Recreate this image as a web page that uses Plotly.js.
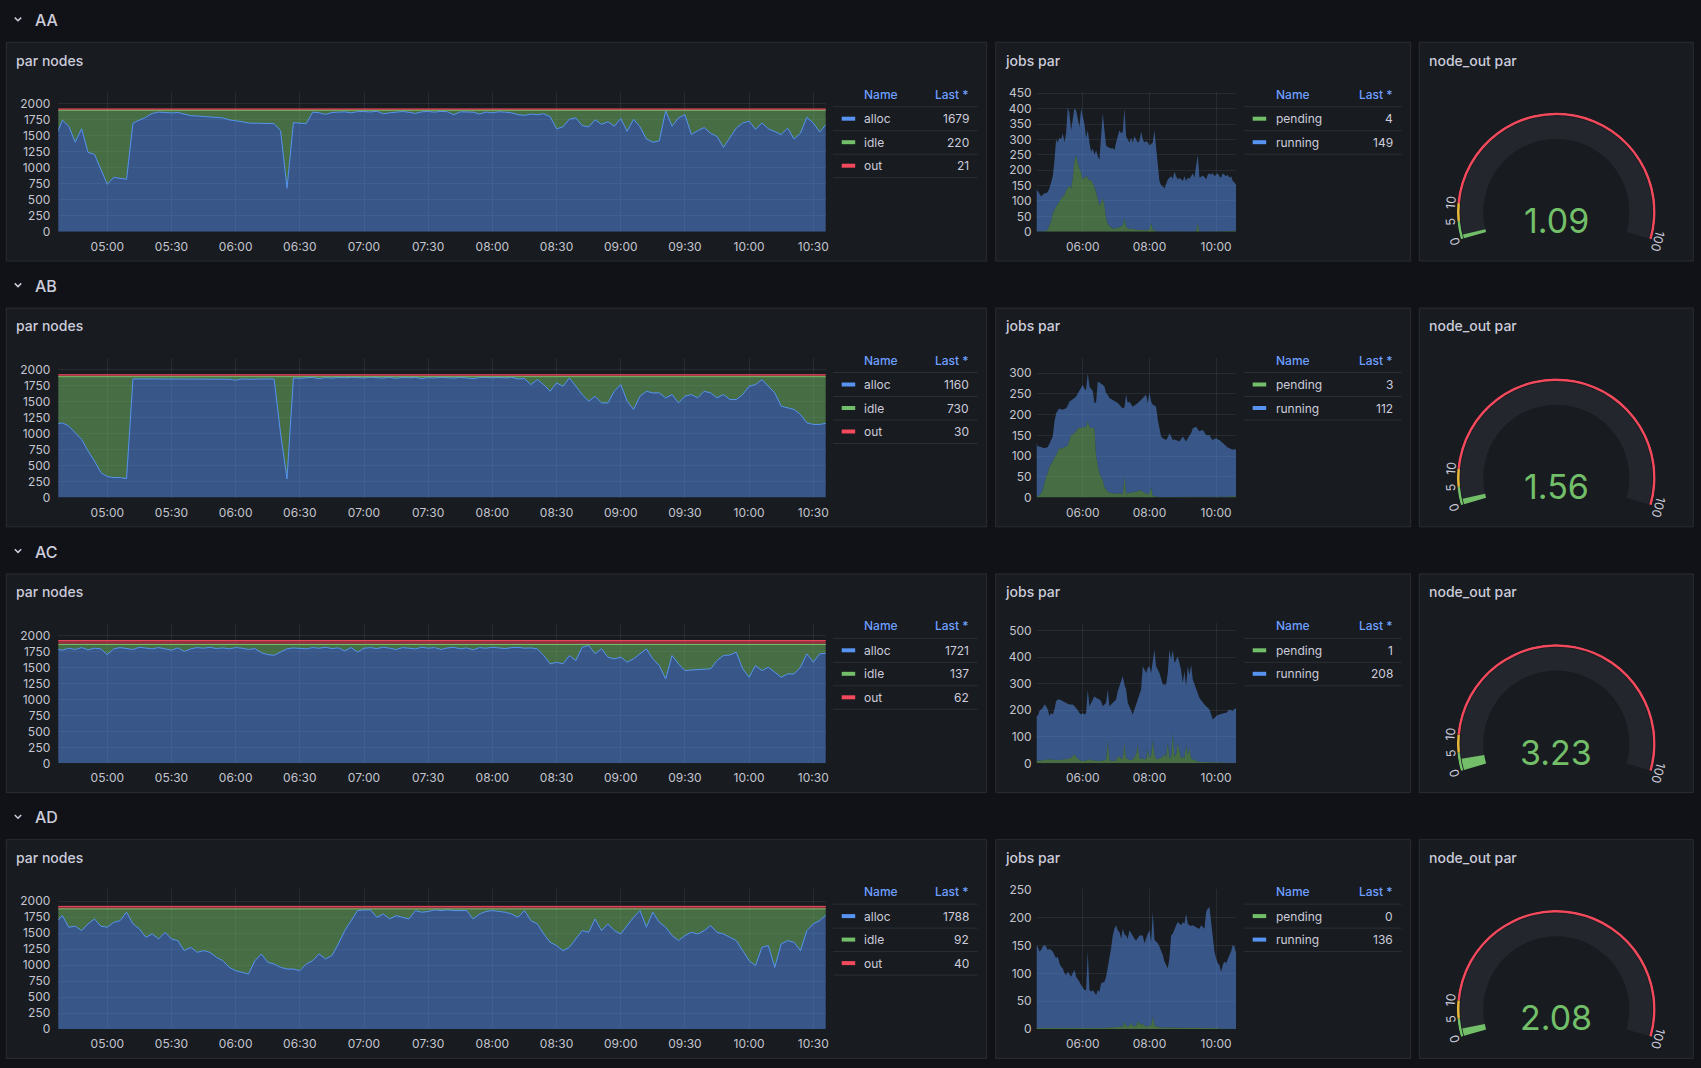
<!DOCTYPE html>
<html>
<head>
<meta charset="utf-8">
<script src="https://cdn.plot.ly/plotly-3.0.1.min.js"></script>
<style>
  html, body { margin: 0; padding: 0; background: #111217; }
  #dash { width: 1701px; height: 1068px; }
</style>
</head>
<body>
<div id="dash"></div>
<script>
// rows of the dashboard
const rowNames = ['AA', 'AB', 'AC', 'AD'];

// one sample every 3 minutes, 04:36 .. 10:36 (121 samples)
const DAY = '2024-05-14 ';
const START_MIN = 4 * 60 + 36;
const STEP_MIN = 3;
const N_POINTS = 121;
const times = [];
for (let i = 0; i < N_POINTS; i++) {
  const m = START_MIN + i * STEP_MIN;
  times.push(DAY + String(Math.floor(m / 60)).padStart(2, '0') + ':' + String(m % 60).padStart(2, '0'));
}

// ---- par nodes (stacked: alloc, idle, out) ----
const allocAA = [
  1490, 1745, 1650, 1400, 1610, 1240, 1210, 960, 740, 850,
  840, 820, 1700, 1740, 1790, 1850, 1870, 1865, 1858, 1865,
  1840, 1815, 1810, 1800, 1800, 1790, 1780, 1750, 1740, 1720,
  1700, 1700, 1690, 1695, 1690, 1580, 680, 1705, 1695, 1690,
  1870, 1860, 1835, 1865, 1870, 1875, 1860, 1878, 1880, 1872,
  1885, 1845, 1860, 1870, 1880, 1868, 1850, 1875, 1880, 1870,
  1882, 1876, 1830, 1875, 1878, 1870, 1840, 1872, 1860, 1875,
  1870, 1860, 1830, 1820, 1840, 1830, 1845, 1800, 1610, 1640,
  1760, 1780, 1660, 1640, 1750, 1680, 1720, 1650, 1770, 1570,
  1760, 1640, 1450, 1400, 1420, 1890, 1650, 1780, 1830, 1520,
  1580, 1630, 1540, 1490, 1320, 1480, 1620, 1700, 1730, 1600,
  1700, 1610, 1560, 1520, 1620, 1450, 1540, 1790, 1700, 1560,
  1679];
const idleAA = [
  409, 154, 249, 499, 289, 659, 689, 939, 1159, 1049,
  1059, 1079, 199, 159, 109, 49, 29, 34, 41, 34,
  59, 84, 89, 99, 99, 109, 119, 149, 159, 179,
  199, 199, 209, 204, 209, 319, 1219, 194, 204, 209,
  29, 39, 64, 34, 29, 24, 39, 21, 19, 27,
  14, 54, 39, 29, 19, 31, 49, 24, 19, 29,
  17, 23, 69, 24, 21, 29, 59, 27, 39, 24,
  29, 39, 69, 79, 59, 69, 54, 99, 289, 259,
  139, 119, 239, 259, 149, 219, 179, 249, 129, 329,
  139, 259, 449, 499, 479, 9, 249, 119, 69, 379,
  319, 269, 359, 409, 579, 419, 279, 199, 169, 299,
  199, 289, 339, 379, 279, 449, 359, 109, 199, 339,
  220];
const outAA = [
  21, 21, 21, 21, 21, 21, 21, 21, 21, 21, 21,
  21, 21, 21, 21, 21, 21, 21, 21, 21, 21, 21,
  21, 21, 21, 21, 21, 21, 21, 21, 21, 21, 21,
  21, 21, 21, 21, 21, 21, 21, 21, 21, 21, 21,
  21, 21, 21, 21, 21, 21, 21, 21, 21, 21, 21,
  21, 21, 21, 21, 21, 21, 21, 21, 21, 21, 21,
  21, 21, 21, 21, 21, 21, 21, 21, 21, 21, 21,
  21, 21, 21, 21, 21, 21, 21, 21, 21, 21, 21,
  21, 21, 21, 21, 21, 21, 21, 21, 21, 21, 21,
  21, 21, 21, 21, 21, 21, 21, 21, 21, 21, 21,
  21, 21, 21, 21, 21, 21, 21, 21, 21, 21, 21];

const allocAB = [
  1143, 1169, 1117, 1013, 909, 727, 571, 390, 327, 312,
  312, 296, 1855, 1855, 1855, 1855, 1855, 1855, 1855, 1855,
  1855, 1855, 1855, 1855, 1855, 1855, 1850, 1850, 1835, 1855,
  1850, 1855, 1850, 1855, 1850, 1000, 290, 1870, 1865, 1875,
  1880, 1860, 1875, 1868, 1878, 1872, 1880, 1876, 1870, 1882,
  1875, 1868, 1880, 1865, 1878, 1872, 1880, 1860, 1876, 1870,
  1880, 1875, 1868, 1880, 1874, 1860, 1876, 1880, 1872, 1878,
  1870, 1880, 1855, 1860, 1766, 1844, 1766, 1662, 1792, 1740,
  1870, 1740, 1610, 1506, 1584, 1480, 1480, 1662, 1766, 1506,
  1377, 1584, 1662, 1636, 1636, 1558, 1610, 1480, 1584, 1610,
  1558, 1662, 1636, 1558, 1610, 1532, 1532, 1610, 1740, 1766,
  1844, 1740, 1636, 1429, 1403, 1377, 1299, 1169, 1143, 1143,
  1160];
const idleAB = [
  747, 721, 773, 877, 981, 1163, 1319, 1500, 1563, 1578,
  1578, 1594, 35, 35, 35, 35, 35, 35, 35, 35,
  35, 35, 35, 35, 35, 35, 40, 40, 55, 35,
  40, 35, 40, 35, 40, 890, 1600, 20, 25, 15,
  10, 30, 15, 22, 12, 18, 10, 14, 20, 8,
  15, 22, 10, 25, 12, 18, 10, 30, 14, 20,
  10, 15, 22, 10, 16, 30, 14, 10, 18, 12,
  20, 10, 35, 30, 124, 46, 124, 228, 98, 150,
  20, 150, 280, 384, 306, 410, 410, 228, 124, 384,
  513, 306, 228, 254, 254, 332, 280, 410, 306, 280,
  332, 228, 254, 332, 280, 358, 358, 280, 150, 124,
  46, 150, 254, 461, 487, 513, 591, 721, 747, 747,
  730];
const outAB = [
  30, 30, 30, 30, 30, 30, 30, 30, 30, 30, 30,
  30, 30, 30, 30, 30, 30, 30, 30, 30, 30, 30,
  30, 30, 30, 30, 30, 30, 30, 30, 30, 30, 30,
  30, 30, 30, 30, 30, 30, 30, 30, 30, 30, 30,
  30, 30, 30, 30, 30, 30, 30, 30, 30, 30, 30,
  30, 30, 30, 30, 30, 30, 30, 30, 30, 30, 30,
  30, 30, 30, 30, 30, 30, 30, 30, 30, 30, 30,
  30, 30, 30, 30, 30, 30, 30, 30, 30, 30, 30,
  30, 30, 30, 30, 30, 30, 30, 30, 30, 30, 30,
  30, 30, 30, 30, 30, 30, 30, 30, 30, 30, 30,
  30, 30, 30, 30, 30, 30, 30, 30, 30, 30, 30];

const allocAC = [
  1790, 1770, 1800, 1780, 1810, 1775, 1800, 1790, 1700, 1790,
  1810, 1800, 1780, 1815, 1800, 1790, 1810, 1795, 1770, 1805,
  1750, 1790, 1810, 1800, 1815, 1795, 1805, 1790, 1810, 1800,
  1780, 1795, 1730, 1700, 1690, 1740, 1790, 1805, 1800, 1790,
  1810, 1800, 1815, 1795, 1805, 1760, 1810, 1740, 1800, 1810,
  1795, 1815, 1800, 1780, 1810, 1805, 1790, 1815, 1800, 1810,
  1780, 1805, 1815, 1790, 1805, 1775, 1810, 1800, 1815, 1805,
  1795, 1810, 1815, 1800, 1805, 1790, 1686, 1555, 1580, 1555,
  1686, 1607, 1817, 1843, 1712, 1791, 1660, 1634, 1660, 1581,
  1634, 1712, 1791, 1634, 1529, 1319, 1686, 1555, 1450, 1460,
  1465, 1470, 1477, 1607, 1686, 1695, 1738, 1477, 1346, 1529,
  1450, 1503, 1424, 1346, 1398, 1398, 1503, 1712, 1581, 1712,
  1721];
const idleAC = [
  68, 88, 58, 78, 48, 83, 58, 68, 158, 68,
  48, 58, 78, 43, 58, 68, 48, 63, 88, 53,
  108, 68, 48, 58, 43, 63, 53, 68, 48, 58,
  78, 63, 128, 158, 168, 118, 68, 53, 58, 68,
  48, 58, 43, 63, 53, 98, 48, 118, 58, 48,
  63, 43, 58, 78, 48, 53, 68, 43, 58, 48,
  78, 53, 43, 68, 53, 83, 48, 58, 43, 53,
  63, 48, 43, 58, 53, 68, 172, 303, 278, 303,
  172, 251, 41, 15, 146, 67, 198, 224, 198, 277,
  224, 146, 67, 224, 329, 539, 172, 303, 408, 398,
  393, 388, 381, 251, 172, 163, 120, 381, 512, 329,
  408, 355, 434, 512, 460, 460, 355, 146, 277, 146,
  137];
const outAC = [
  62, 62, 62, 62, 62, 62, 62, 62, 62, 62, 62,
  62, 62, 62, 62, 62, 62, 62, 62, 62, 62, 62,
  62, 62, 62, 62, 62, 62, 62, 62, 62, 62, 62,
  62, 62, 62, 62, 62, 62, 62, 62, 62, 62, 62,
  62, 62, 62, 62, 62, 62, 62, 62, 62, 62, 62,
  62, 62, 62, 62, 62, 62, 62, 62, 62, 62, 62,
  62, 62, 62, 62, 62, 62, 62, 62, 62, 62, 62,
  62, 62, 62, 62, 62, 62, 62, 62, 62, 62, 62,
  62, 62, 62, 62, 62, 62, 62, 62, 62, 62, 62,
  62, 62, 62, 62, 62, 62, 62, 62, 62, 62, 62,
  62, 62, 62, 62, 62, 62, 62, 62, 62, 62, 62];

const allocAD = [
  1671, 1775, 1593, 1610, 1540, 1645, 1723, 1610, 1593, 1670,
  1697, 1828, 1645, 1567, 1436, 1488, 1410, 1514, 1410, 1384,
  1227, 1280, 1201, 1227, 1201, 1123, 1070, 966, 914, 888,
  862, 1070, 1175, 1044, 1018, 966, 940, 940, 914, 1018,
  1070, 1175, 1097, 1150, 1332, 1540, 1697, 1854, 1865, 1865,
  1749, 1800, 1723, 1775, 1749, 1723, 1854, 1828, 1840, 1865,
  1854, 1865, 1854, 1854, 1854, 1723, 1800, 1840, 1854, 1840,
  1828, 1800, 1749, 1854, 1697, 1645, 1488, 1358, 1306, 1227,
  1280, 1410, 1540, 1514, 1723, 1540, 1645, 1540, 1488, 1619,
  1749, 1854, 1593, 1828, 1671, 1593, 1462, 1384, 1462, 1514,
  1488, 1540, 1619, 1514, 1488, 1436, 1384, 1227, 1070, 992,
  1280, 1306, 966, 1332, 1384, 1358, 1227, 1540, 1645, 1697,
  1788];
const idleAD = [
  209, 105, 287, 270, 340, 235, 157, 270, 287, 210,
  183, 52, 235, 313, 444, 392, 470, 366, 470, 496,
  653, 600, 679, 653, 679, 757, 810, 914, 966, 992,
  1018, 810, 705, 836, 862, 914, 940, 940, 966, 862,
  810, 705, 783, 730, 548, 340, 183, 26, 15, 15,
  131, 80, 157, 105, 131, 157, 26, 52, 40, 15,
  26, 15, 26, 26, 26, 157, 80, 40, 26, 40,
  52, 80, 131, 26, 183, 235, 392, 522, 574, 653,
  600, 470, 340, 366, 157, 340, 235, 340, 392, 261,
  131, 26, 287, 52, 209, 287, 418, 496, 418, 366,
  392, 340, 261, 366, 392, 444, 496, 653, 810, 888,
  600, 574, 914, 548, 496, 522, 653, 340, 235, 183,
  92];
const outAD = [
  40, 40, 40, 40, 40, 40, 40, 40, 40, 40, 40,
  40, 40, 40, 40, 40, 40, 40, 40, 40, 40, 40,
  40, 40, 40, 40, 40, 40, 40, 40, 40, 40, 40,
  40, 40, 40, 40, 40, 40, 40, 40, 40, 40, 40,
  40, 40, 40, 40, 40, 40, 40, 40, 40, 40, 40,
  40, 40, 40, 40, 40, 40, 40, 40, 40, 40, 40,
  40, 40, 40, 40, 40, 40, 40, 40, 40, 40, 40,
  40, 40, 40, 40, 40, 40, 40, 40, 40, 40, 40,
  40, 40, 40, 40, 40, 40, 40, 40, 40, 40, 40,
  40, 40, 40, 40, 40, 40, 40, 40, 40, 40, 40,
  40, 40, 40, 40, 40, 40, 40, 40, 40, 40, 40];

// ---- jobs par (stacked: pending, running) ----
const pendingAA = [
  0, 0, 0, 0, 0, 0, 2, 8, 20, 35,
  60, 72, 82, 90, 100, 108, 115, 120, 135, 145,
  150, 140, 175, 230, 250, 225, 205, 195, 170, 175,
  182, 175, 165, 170, 160, 145, 130, 105, 85, 95,
  110, 85, 45, 25, 18, 14, 10, 10, 10, 12,
  15, 18, 20, 45, 15, 12, 8, 10, 10, 8,
  6, 5, 7, 6, 5, 5, 5, 6, 8, 30,
  8, 5, 2, 1, 1, 0, 0, 0, 1, 0,
  0, 1, 0, 2, 0, 1, 0, 0, 1, 0,
  0, 0, 1, 0, 0, 2, 1, 30, 0, 0,
  0, 1, 0, 0, 1, 0, 0, 0, 0, 0,
  1, 0, 0, 0, 1, 0, 0, 0, 2, 3,
  4];
const runningAA = [
  140, 130, 120, 115, 120, 125, 123, 122, 120, 130,
  120, 158, 218, 200, 205, 192, 205, 170, 185, 260,
  235, 190, 185, 170, 145, 135, 135, 205, 200, 175,
  123, 155, 125, 90, 110, 105, 135, 140, 150, 205,
  275, 245, 235, 250, 254, 256, 262, 255, 280, 298,
  315, 302, 305, 355, 295, 288, 282, 295, 280, 302,
  294, 285, 288, 319, 295, 285, 290, 284, 272, 255,
  282, 325, 268, 199, 164, 150, 148, 140, 157, 170,
  175, 179, 172, 193, 180, 169, 175, 170, 164, 180,
  165, 175, 171, 180, 190, 173, 209, 220, 175, 180,
  182, 177, 170, 185, 189, 185, 190, 180, 185, 190,
  179, 175, 190, 185, 179, 185, 175, 180, 163, 157,
  149];

const pendingAB = [
  2, 3, 6, 10, 18, 35, 51, 60, 75, 80,
  88, 95, 105, 115, 119, 119, 119, 122, 123, 127,
  140, 151, 153, 155, 160, 167, 168, 168, 169, 170,
  170, 185, 170, 168, 168, 168, 100, 79, 59, 50,
  43, 26, 20, 14, 12, 11, 10, 9, 9, 10,
  10, 9, 9, 51, 10, 10, 11, 12, 14, 14,
  14, 16, 18, 16, 14, 12, 10, 8, 9, 26,
  4, 3, 2, 1, 1, 1, 1, 1, 1, 1,
  1, 1, 1, 1, 1, 1, 1, 1, 1, 1,
  1, 1, 1, 1, 1, 1, 1, 1, 1, 1,
  1, 1, 1, 1, 1, 1, 1, 1, 1, 1,
  1, 1, 1, 2, 2, 2, 3, 3, 3, 3,
  3];
const runningAB = [
  133, 120, 117, 112, 102, 84, 69, 62, 55, 59,
  59, 88, 98, 95, 96, 94, 93, 92, 92, 95,
  92, 83, 83, 85, 84, 85, 92, 100, 103, 92,
  90, 115, 98, 94, 90, 60, 130, 201, 219, 226,
  229, 242, 232, 234, 228, 227, 226, 225, 223, 218,
  214, 211, 206, 167, 238, 218, 221, 213, 205, 208,
  210, 212, 214, 220, 226, 230, 238, 220, 243, 206,
  220, 219, 217, 187, 166, 146, 142, 139, 138, 144,
  154, 146, 138, 139, 138, 136, 134, 142, 146, 140,
  134, 142, 150, 154, 166, 169, 170, 164, 159, 161,
  162, 156, 150, 149, 150, 142, 138, 140, 142, 139,
  138, 134, 130, 125, 121, 119, 116, 114, 112, 114,
  112];

const pendingAC = [
  9, 10, 11, 12, 12, 13, 13, 14, 15, 14,
  13, 12, 13, 12, 12, 13, 14, 14, 15, 15,
  18, 22, 28, 34, 22, 20, 12, 10, 9, 10,
  12, 14, 15, 12, 11, 10, 9, 8, 9, 10,
  11, 12, 14, 84, 15, 10, 9, 10, 12, 25,
  25, 18, 20, 78, 22, 15, 12, 12, 15, 25,
  35, 71, 20, 15, 20, 15, 15, 53, 18, 30,
  90, 35, 18, 15, 18, 20, 25, 35, 25, 78,
  20, 25, 115, 25, 35, 78, 45, 18, 25, 20,
  71, 30, 60, 20, 12, 15, 9, 6, 5, 5,
  5, 5, 5, 5, 5, 4, 4, 4, 4, 3,
  3, 3, 3, 2, 2, 2, 2, 2, 1, 1,
  1];
const runningAC = [
  175, 168, 186, 193, 197, 209, 202, 189, 163, 176,
  171, 191, 221, 229, 229, 225, 220, 217, 213, 210,
  204, 200, 194, 182, 187, 180, 178, 174, 181, 174,
  178, 264, 200, 218, 230, 243, 238, 236, 232, 224,
  204, 210, 214, 194, 200, 212, 219, 224, 229, 247,
  266, 291, 308, 219, 256, 213, 203, 191, 169, 178,
  187, 169, 233, 263, 346, 335, 326, 307, 348, 311,
  288, 393, 348, 338, 323, 300, 272, 262, 272, 263,
  408, 366, 313, 353, 356, 325, 333, 335, 278, 327,
  220, 336, 274, 352, 304, 282, 269, 260, 242, 233,
  223, 217, 210, 204, 198, 180, 161, 168, 174, 179,
  181, 184, 187, 188, 188, 193, 201, 198, 196, 204,
  208];

const pendingAD = [
  2, 2, 2, 2, 2, 2, 2, 2, 2, 2,
  2, 2, 2, 2, 2, 2, 2, 2, 2, 2,
  2, 2, 2, 2, 2, 1, 1, 1, 1, 1,
  1, 1, 1, 1, 1, 1, 2, 2, 2, 2,
  2, 2, 2, 3, 3, 3, 3, 3, 3, 3,
  4, 4, 5, 14, 6, 5, 6, 12, 6, 5,
  6, 14, 11, 8, 10, 6, 5, 5, 5, 8,
  23, 8, 5, 4, 3, 3, 3, 3, 2, 2,
  2, 2, 2, 2, 2, 2, 2, 2, 2, 2,
  2, 2, 2, 2, 2, 2, 2, 2, 2, 2,
  2, 2, 2, 2, 2, 2, 2, 2, 2, 2,
  1, 1, 1, 1, 1, 1, 1, 1, 1, 1,
  0];
const runningAD = [
  149, 146, 137, 140, 146, 149, 146, 140, 142, 139,
  137, 131, 125, 128, 116, 110, 107, 98, 95, 101,
  95, 92, 98, 104, 92, 89, 84, 78, 72, 69,
  69, 138, 69, 66, 69, 63, 59, 68, 65, 80,
  82, 83, 92, 106, 121, 142, 165, 177, 183, 174,
  170, 158, 175, 156, 162, 157, 171, 159, 159, 157,
  153, 151, 157, 160, 158, 148, 160, 166, 172, 148,
  187, 152, 152, 150, 145, 139, 130, 118, 113, 107,
  125, 166, 169, 178, 184, 190, 187, 184, 190, 187,
  205, 187, 184, 183, 184, 182, 181, 179, 178, 184,
  181, 178, 208, 214, 217, 190, 155, 137, 125, 116,
  114, 102, 114, 120, 117, 126, 132, 138, 150, 147,
  136];

// ---- node_out par gauges ----
const gaugeValues = [1.09, 1.56, 3.23, 2.08];
const gaugeSteps = [0, 5, 10, 100];
const GAUGE_MAX = 100;

// y axis extents of the two time series panels per row
const nodesMax = [2190, 2190, 2190, 2190];
const nodesStep = [250, 250, 250, 250];
const jobsMax = [455, 338, 528, 251];
const jobsStep = [50, 50, 100, 50];

const rows = [
  { alloc: allocAA, idle: idleAA, out: outAA, pending: pendingAA, running: runningAA },
  { alloc: allocAB, idle: idleAB, out: outAB, pending: pendingAB, running: runningAB },
  { alloc: allocAC, idle: idleAC, out: outAC, pending: pendingAC, running: runningAC },
  { alloc: allocAD, idle: idleAD, out: outAD, pending: pendingAD, running: runningAD }
];

// ---- page geometry (pixels) ----
const W = 1701, H = 1068;
const ROW_STEP = 265.8;
const fx = x => x / W;
const fy = y => 1 - y / H;
const PANELS = [[6.3, 986.7], [995.7, 1410.7], [1419.3, 1693.3]];
const PANEL_TOP = 42.3, PANEL_BOTTOM = 261;
const PLOT_TOP = 91.7, PLOT_BOTTOM = 231.7;
const NODES_X = [58.3, 825.7];
const JOBS_X = [1036.7, 1236];
const GAUGE_CX = 1556.3, GAUGE_CY = 211.9, GAUGE_R = 99.5;
const G_START = 196, G_SPAN = 212;
// the polar sector only covers the arc, so the subplot box stays inside the page
const G_SECTOR = [-17, 197];
const G_DROP = Math.sin(17 * Math.PI / 180);

const FONT = 'Inter, "Noto Sans", sans-serif';
const C = {
  bg: '#111217', panel: '#181b1f', border: '#2a2d33', text: '#ccccdc', tick: '#c4c5d0',
  grid: 'rgba(204,204,220,0.09)', head: '#6e9fff', sep: '#2c2f35',
  blue: '#5794f2', green: '#73bf69', red: '#f2495c', yellow: '#eab839', band: '#23262c'
};
const stepColors = [C.green, C.yellow, C.red];

const gTheta = v => G_START - v / GAUGE_MAX * G_SPAN;
const sfx = n => (n === 1 ? '' : String(n));

const traces = [];
const layout = {
  width: W, height: H,
  margin: { l: 0, r: 0, t: 0, b: 0 },
  paper_bgcolor: C.bg,
  plot_bgcolor: C.panel,
  showlegend: false,
  font: { family: FONT, color: C.text, size: 12 },
  shapes: [],
  annotations: []
};

function note(x, y, text, anchor, color, size, weight, angle) {
  layout.annotations.push({
    xref: 'paper', yref: 'paper', x: fx(x), y: fy(y),
    text: text, showarrow: false, xanchor: anchor, yanchor: 'middle',
    textangle: angle || 0,
    font: { family: FONT, size: size || 12, color: color || C.text, weight: weight || 400 }
  });
}

function hline(x0, x1, y, color) {
  layout.shapes.push({
    type: 'line', xref: 'paper', yref: 'paper',
    x0: fx(x0), x1: fx(x1), y0: fy(y), y1: fy(y),
    line: { color: color || C.sep, width: 1 }
  });
}

function timeAxis(domain, anchor, dtick) {
  return {
    type: 'date', domain: domain, anchor: anchor,
    range: [DAY + '04:37:06', DAY + '10:35:48'],
    showgrid: true, gridcolor: C.grid, gridwidth: 1,
    zeroline: false, showline: false, ticks: '',
    tickformat: '%H:%M', tick0: DAY + '00:00', dtick: dtick,
    tickfont: { family: FONT, size: 12, color: C.tick },
    ticklabelstandoff: 6, fixedrange: true
  };
}

function valueAxis(domain, anchor, max, dtick, standoff) {
  return {
    domain: domain, anchor: anchor, range: [0, max],
    tick0: 0, dtick: dtick,
    showgrid: true, gridcolor: C.grid, gridwidth: 1,
    zeroline: false, showline: false, ticks: '',
    tickfont: { family: FONT, size: 12, color: C.tick },
    ticklabelstandoff: standoff, fixedrange: true
  };
}

function legend(off, box, items) {
  note(box.name, 94.3 + off, 'Name', 'left', C.head, 12, 500);
  note(box.value, 94.3 + off, 'Last *', 'right', C.head, 12, 500);
  hline(box.x0, box.x1, 106.7 + off);
  items.forEach((it, i) => {
    const yc = 118.7 + i * 23.5 + off;
    layout.shapes.push({
      type: 'rect', xref: 'paper', yref: 'paper',
      x0: fx(box.swatch), x1: fx(box.swatch + 13.5), y0: fy(yc + 2), y1: fy(yc - 2),
      fillcolor: it.color, line: { width: 0 }
    });
    note(box.name, yc, it.name, 'left');
    note(box.value, yc, String(it.data[it.data.length - 1]), 'right');
    hline(box.x0, box.x1, yc + 12);
  });
}

rows.forEach((row, r) => {
  const off = r * ROW_STEP;
  const nx = 2 * r + 1, jx = 2 * r + 2;
  const yDomain = [fy(PLOT_BOTTOM + off), fy(PLOT_TOP + off)];

  // panel frames
  PANELS.forEach(p => {
    layout.shapes.push({
      type: 'rect', xref: 'paper', yref: 'paper', layer: 'below',
      x0: fx(p[0]), x1: fx(p[1]), y0: fy(PANEL_BOTTOM + off), y1: fy(PANEL_TOP + off),
      fillcolor: C.panel, line: { color: C.border, width: 1 }
    });
  });

  // row header with chevron
  layout.shapes.push({
    type: 'path', xref: 'paper', yref: 'paper',
    path: 'M ' + fx(14.8) + ',' + fy(17.6 + off) + ' L ' + fx(18) + ',' + fy(20.8 + off) +
          ' L ' + fx(21.2) + ',' + fy(17.6 + off),
    line: { color: C.text, width: 1.5 }
  });
  note(33, 20 + off, rowNames[r], 'left', C.text, 16, 500);

  // panel titles
  note(14, 60 + off, 'par nodes', 'left', C.text, 14, 500);
  note(1003, 60 + off, 'jobs par', 'left', C.text, 14, 500);
  note(1427, 60 + off, 'node_out par', 'left', C.text, 14, 500);

  // par nodes, stacked
  const nodeSeries = [
    { name: 'alloc', data: row.alloc, color: C.blue, fill: 'rgba(87,148,242,0.5)' },
    { name: 'idle', data: row.idle, color: C.green, fill: 'rgba(115,191,105,0.5)' },
    { name: 'out', data: row.out, color: C.red, fill: 'rgba(242,73,92,0.55)' }
  ];
  nodeSeries.forEach(s => {
    traces.push({
      type: 'scatter', mode: 'lines', x: times, y: s.data,
      xaxis: 'x' + sfx(nx), yaxis: 'y' + sfx(nx),
      stackgroup: 'nodes' + r,
      line: { color: s.color, width: 1 },
      fillcolor: s.fill, hoverinfo: 'skip'
    });
  });
  layout['xaxis' + sfx(nx)] = timeAxis([fx(NODES_X[0]), fx(NODES_X[1])], 'y' + sfx(nx), 1800000);
  layout['yaxis' + sfx(nx)] = valueAxis(yDomain, 'x' + sfx(nx), nodesMax[r], nodesStep[r], 7);
  legend(off, { x0: 833, x1: 977.7, swatch: 841.7, name: 862, value: 970.5 }, nodeSeries);

  // jobs par, stacked
  const jobSeries = [
    { name: 'pending', data: row.pending, color: C.green, fill: 'rgba(115,191,105,0.5)' },
    { name: 'running', data: row.running, color: C.blue, fill: 'rgba(87,148,242,0.5)' }
  ];
  jobSeries.forEach(s => {
    traces.push({
      type: 'scatter', mode: 'lines', x: times, y: s.data,
      xaxis: 'x' + sfx(jx), yaxis: 'y' + sfx(jx),
      stackgroup: 'jobs' + r,
      line: { color: s.fill, width: 0 },
      fillcolor: s.fill, hoverinfo: 'skip'
    });
  });
  layout['xaxis' + sfx(jx)] = timeAxis([fx(JOBS_X[0]), fx(JOBS_X[1])], 'y' + sfx(jx), 7200000);
  layout['yaxis' + sfx(jx)] = valueAxis(yDomain, 'x' + sfx(jx), jobsMax[r], jobsStep[r], 4);
  legend(off, { x0: 1244, x1: 1401.7, swatch: 1252.7, name: 1274, value: 1394.5 }, jobSeries);

  // node_out gauge drawn on a polar subplot
  const pn = 'polar' + sfx(r + 1);
  const cy = GAUGE_CY + off;
  layout[pn] = {
    domain: {
      x: [fx(GAUGE_CX - GAUGE_R), fx(GAUGE_CX + GAUGE_R)],
      y: [fy(cy + GAUGE_R * G_DROP), fy(cy - GAUGE_R)]
    },
    sector: G_SECTOR,
    bgcolor: 'rgba(0,0,0,0)',
    barmode: 'overlay',
    radialaxis: { visible: false, range: [0, GAUGE_R] },
    angularaxis: { visible: false, rotation: 0, direction: 'counterclockwise' }
  };
  const v = gaugeValues[r];
  let vColor = stepColors[0];
  for (let i = 0; i < stepColors.length; i++) {
    if (v >= gaugeSteps[i]) vColor = stepColors[i];
  }
  // background band
  traces.push({
    type: 'barpolar', subplot: pn, r: [23], base: [73],
    theta: [gTheta(GAUGE_MAX / 2)], width: [G_SPAN],
    marker: { color: C.band, line: { width: 0 } }, hoverinfo: 'skip'
  });
  // value
  traces.push({
    type: 'barpolar', subplot: pn, r: [23], base: [73],
    theta: [gTheta(v / 2)], width: [v / GAUGE_MAX * G_SPAN],
    marker: { color: vColor, line: { width: 0 } }, hoverinfo: 'skip'
  });
  // threshold ring
  for (let i = 0; i < stepColors.length; i++) {
    const a = gaugeSteps[i], b = gaugeSteps[i + 1];
    traces.push({
      type: 'barpolar', subplot: pn, r: [2.5], base: [96.8],
      theta: [gTheta((a + b) / 2)], width: [(b - a) / GAUGE_MAX * G_SPAN],
      marker: { color: stepColors[i], line: { width: 0 } }, hoverinfo: 'skip'
    });
  }
  // threshold labels along the arc
  gaugeSteps.forEach(s => {
    const t = gTheta(s) * Math.PI / 180;
    note(GAUGE_CX + 106 * Math.cos(t), cy - 106 * Math.sin(t), String(s), 'center',
         C.text, 12.5, 400, 90 - gTheta(s));
  });
  note(GAUGE_CX, 220.5 + off, v.toFixed(2), 'center', vColor, 34, 400);
});

Plotly.newPlot('dash', traces, layout, { staticPlot: true, displayModeBar: false });
</script>
</body>
</html>
